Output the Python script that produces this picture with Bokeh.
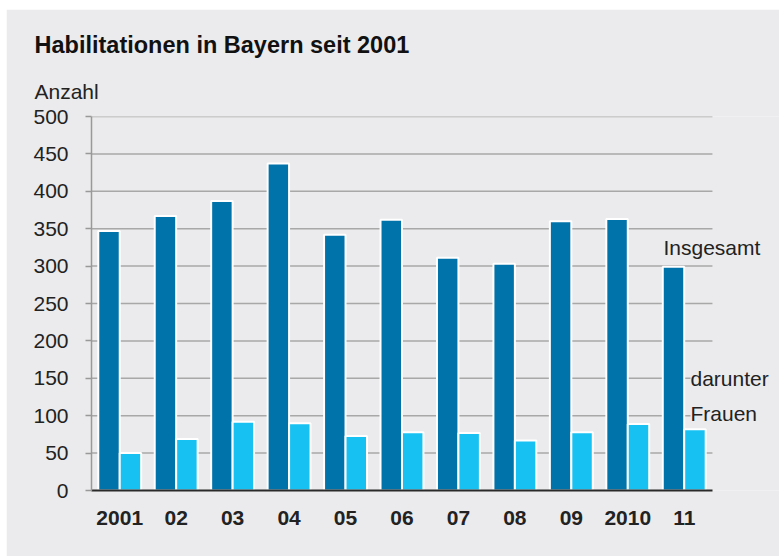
from bokeh.plotting import figure
from bokeh.models import ColumnDataSource, Range1d, Label, FixedTicker, Title
from bokeh.transform import dodge
from bokeh.embed import file_html
from bokeh.resources import INLINE

# ---- data ----
years = ["2001", "02", "03", "04", "05", "06", "07", "08", "09", "2010", "11"]
insgesamt = [347, 367, 387, 437, 342, 362, 311, 303, 360, 363, 299]
frauen = [50, 69, 92, 90, 73, 78, 77, 67, 78, 89, 82]
y_ticks = [0, 50, 100, 150, 200, 250, 300, 350, 400, 450, 500]

title_text = "Habilitationen in Bayern seit 2001"
unit_text = "Anzahl"
label_total = "Insgesamt"
label_women_1 = "darunter"
label_women_2 = "Frauen"

# ---- style / layout ----
BG = "#ebebed"
DARK = "#0073aa"
LIGHT = "#17c2f2"
TXT = "#222222"
FONT = "Liberation Sans"

MT, ML = 9, 6                 # page offset of the grey panel
W, H = 779 - ML, 556 - MT     # figure size
FL, FT, FB = 85, 107, 481     # frame left / top / bottom inside the figure
FR = W                        # frame runs to the right edge (labels live there)
STEP = 56.45                  # px per year group
Y_MAX = 500

n = len(years)
xc = [i + 0.5 for i in range(n)]
src = ColumnDataSource(dict(x=xc, total=insgesamt, women=frauen))

p = figure(
    width=W, height=H,
    x_range=Range1d(0, (FR - FL) / STEP),
    y_range=Range1d(0, Y_MAX),
    output_backend="svg", toolbar_location=None,
    min_border_left=FL, min_border_right=0,
    min_border_top=FT, min_border_bottom=H - FB,
)
p.margin = (MT, 0, 0, ML)
p.background_fill_color = BG
p.border_fill_color = BG
p.outline_line_color = None

# grid lines (only across the bar area)
p.xgrid.grid_line_color = None
p.ygrid.grid_line_color = None
gl = [t for t in y_ticks if t > 0]
p.segment(x0=[0] * len(gl), x1=[n] * len(gl), y0=gl, y1=gl,
          line_color="#a8a8a8", line_width=1.5)

p.vbar(x=dodge("x", -0.19), top="total", width=0.38,
       source=src, fill_color=DARK, line_color="white", line_width=2)
p.vbar(x=dodge("x", 0.19), top="women", width=0.38,
       source=src, fill_color=LIGHT, line_color="white", line_width=2)

# y axis
p.yaxis.ticker = FixedTicker(ticks=y_ticks)
p.yaxis.axis_line_color = "#999999"
p.yaxis.axis_line_width = 1.5
p.yaxis.major_tick_line_color = "#999999"
p.yaxis.major_tick_line_width = 1.5
p.yaxis.major_tick_out = 6
p.yaxis.major_tick_in = 0
p.yaxis.minor_tick_line_color = None
p.yaxis.major_label_standoff = 17
p.yaxis.major_label_text_font = FONT
p.yaxis.major_label_text_font_size = "21px"
p.yaxis.major_label_text_color = TXT

# x axis
p.xaxis.ticker = FixedTicker(ticks=xc)
p.xaxis.major_label_overrides = {x: y for x, y in zip(xc, years)}
p.xaxis.bounds = (0, n)
p.xaxis.axis_line_color = "#2a2a2a"
p.xaxis.axis_line_width = 2
p.xaxis.major_tick_line_color = None
p.xaxis.minor_tick_line_color = None
p.xaxis.major_label_standoff = 14
p.xaxis.major_label_text_font = FONT
p.xaxis.major_label_text_font_style = "bold"
p.xaxis.major_label_text_font_size = "21px"
p.xaxis.major_label_text_color = TXT

# titles (outside the frame, shifted left to the panel edge)
p.add_layout(Title(text=unit_text, align="left", offset=34 - (ML + FL),
                   text_font=FONT, text_font_size="21px", text_font_style="normal",
                   text_color=TXT, standoff=28), "above")
p.title = Title(text=title_text, align="left", offset=34 - (ML + FL),
                text_font=FONT, text_font_size="23.5px", text_font_style="bold",
                text_color="#111111", standoff=12)

# series labels inside the frame
def dx(px):
    return (px - ML - FL) / STEP
def dy(py):
    return (FB - (py - MT)) / (FB - FT) * Y_MAX

def add_label(text, px, py, bg=False):
    lab = Label(x=dx(px), y=dy(py), text=text, text_font=FONT,
                text_font_size="21px", text_color=TXT,
                text_baseline="alphabetic", text_align="left")
    if bg:
        lab.background_fill_color = BG
    p.add_layout(lab)

add_label(label_total, 663, 247)
add_label(label_women_1, 690, 378, bg=True)
add_label(label_women_2, 690, 413, bg=True)

open("out.html", "w").write(file_html(p, INLINE))
